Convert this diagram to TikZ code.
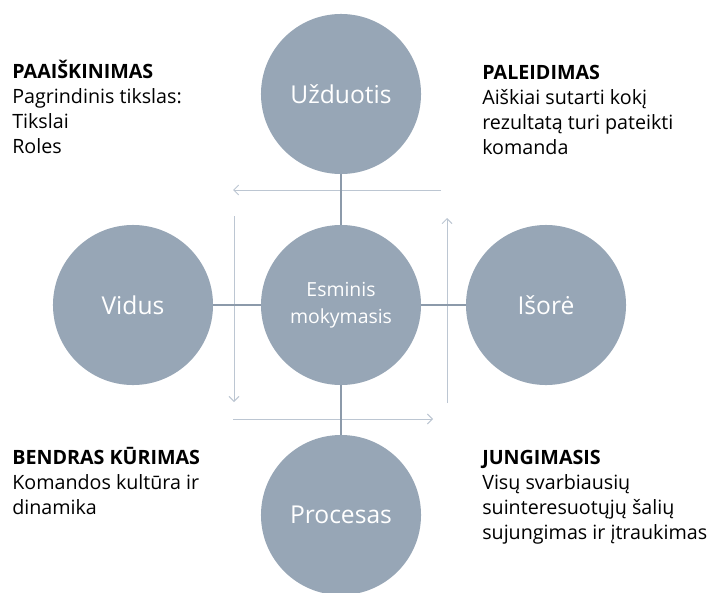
\documentclass[tikz,border=0pt]{standalone}
\usepackage{fontspec}
\usetikzlibrary{arrows.meta}
\setmainfont{Open Sans}
\definecolor{circfill}{RGB}{151,166,182}
\definecolor{linkgray}{RGB}{140,154,170}
\definecolor{flowgray}{RGB}{188,198,210}
\begin{document}
\begin{tikzpicture}[x=0.025cm,y=-0.025cm,
    phase/.style={circle,fill=circfill,draw=none,minimum size=4cm,inner sep=0pt,
        text=white,align=center,font=\fontsize{17.5}{21}\selectfont},
    link/.style={draw=linkgray,line width=1.4pt},
    flow/.style={-{Straight Barb[length=3.5pt,width=7pt]},draw=flowgray,line width=0.7pt},
    note/.style={anchor=north west,align=left,inner sep=0pt,
        font=\fontsize{14}{17.8}\selectfont}]
    \useasboundingbox (0,0) rectangle (709,592);
    % flow around the core
    \coordinate (topR) at (441,190);
    \coordinate (topL) at (233,190);
    \coordinate (leftT) at (234,216);
    \coordinate (leftB) at (234,402);
    \coordinate (botL) at (233,419);
    \coordinate (botR) at (433,419);
    \coordinate (rightB) at (447,403);
    \coordinate (rightT) at (447,218);
    \draw[flow] (topR) -- (topL);
    \draw[flow] (leftT) -- (leftB);
    \draw[flow] (botL) -- (botR);
    \draw[flow] (rightB) -- (rightT);
    % circles
    \node[phase] (task) at (341,94) {Užduotis};
    \node[phase] (inside) at (133,305) {Vidus};
    \node[phase,font=\fontsize{13.8}{19}\selectfont] (core) at (341,305) {Esminis\\mokymasis};
    \node[phase] (outside) at (546,305) {Išorė};
    \node[phase] (process) at (341,515) {Procesas};
    \draw[link] (task) -- (core);
    \draw[link] (inside) -- (core);
    \draw[link] (core) -- (outside);
    \draw[link] (core) -- (process);
    % notes
    \node[note] (explain) at (12,60) {\textbf{PAAIŠKINIMAS}\\Pagrindinis tikslas:\\Tikslai\\Roles};
    \node[note] (launch) at (482,65) {\textbf{PALEIDIMAS}\\Aiškiai sutarti kokį\\rezultatą turi pateikti\\komanda};
    \node[note] (cocreate) at (12,447) {\textbf{BENDRAS KŪRIMAS}\\Komandos kultūra ir\\dinamika};
    \node[note] (connect) at (482,450) {\textbf{JUNGIMASIS}\\Visų svarbiausių\\suinteresuotųjų šalių\\sujungimas ir įtraukimas};
\end{tikzpicture}
\end{document}
